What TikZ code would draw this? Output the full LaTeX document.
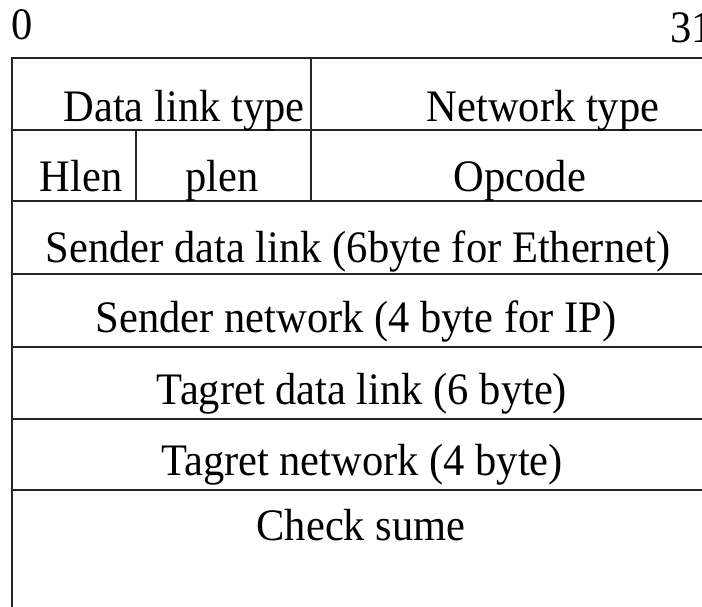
\documentclass[tikz,border=0pt]{standalone}
\usepackage{graphicx}
\usepackage{fontspec}
\setmainfont{Liberation Serif}
\newcommand{\talltext}[1]{\scalebox{1}[1.06]{#1}}
\begin{document}
\begin{tikzpicture}[x=1pt,y=-1pt,
  grid/.style={line width=2pt,draw=black!85},
  lbl/.style={anchor=base,inner sep=0pt,font=\fontsize{42.5}{44}\selectfont}]
\useasboundingbox (0,0) rectangle (702,607);
% table lines
\draw[grid] (12,607) -- (12,58) -- (702,58);
\foreach \y in {130,201,274,347,419,490} \draw[grid] (12,\y) -- (702,\y);
\draw[grid] (311,58) -- (311,201);
\draw[grid] (136,130) -- (136,201);
% bit numbers
\node[lbl,anchor=base west] (b0) at (11,40) {\talltext{0}};
\node[lbl,anchor=base west] (b31) at (670,43) {\talltext{31}};
% fields
\node[lbl] (dlt) at (184,122) {\talltext{Data link type}};
\node[lbl] (nt) at (543,122) {\talltext{Network type}};
\node[lbl] (hlen) at (81,192) {\talltext{Hlen}};
\node[lbl] (plen) at (222,192) {\talltext{plen}};
\node[lbl] (op) at (520,192) {\talltext{Opcode}};
\node[lbl] (sdl) at (358,262) {\talltext{Sender data link (6byte for Ethernet)}};
\node[lbl] (sn) at (356,332) {\talltext{Sender network (4 byte for IP)}};
\node[lbl] (tdl) at (362,404) {\talltext{Tagret data link (6 byte)}};
\node[lbl] (tn) at (362,475) {\talltext{Tagret network (4 byte)}};
\node[lbl] (cs) at (361,540) {\talltext{Check sume}};
\end{tikzpicture}
\end{document}
